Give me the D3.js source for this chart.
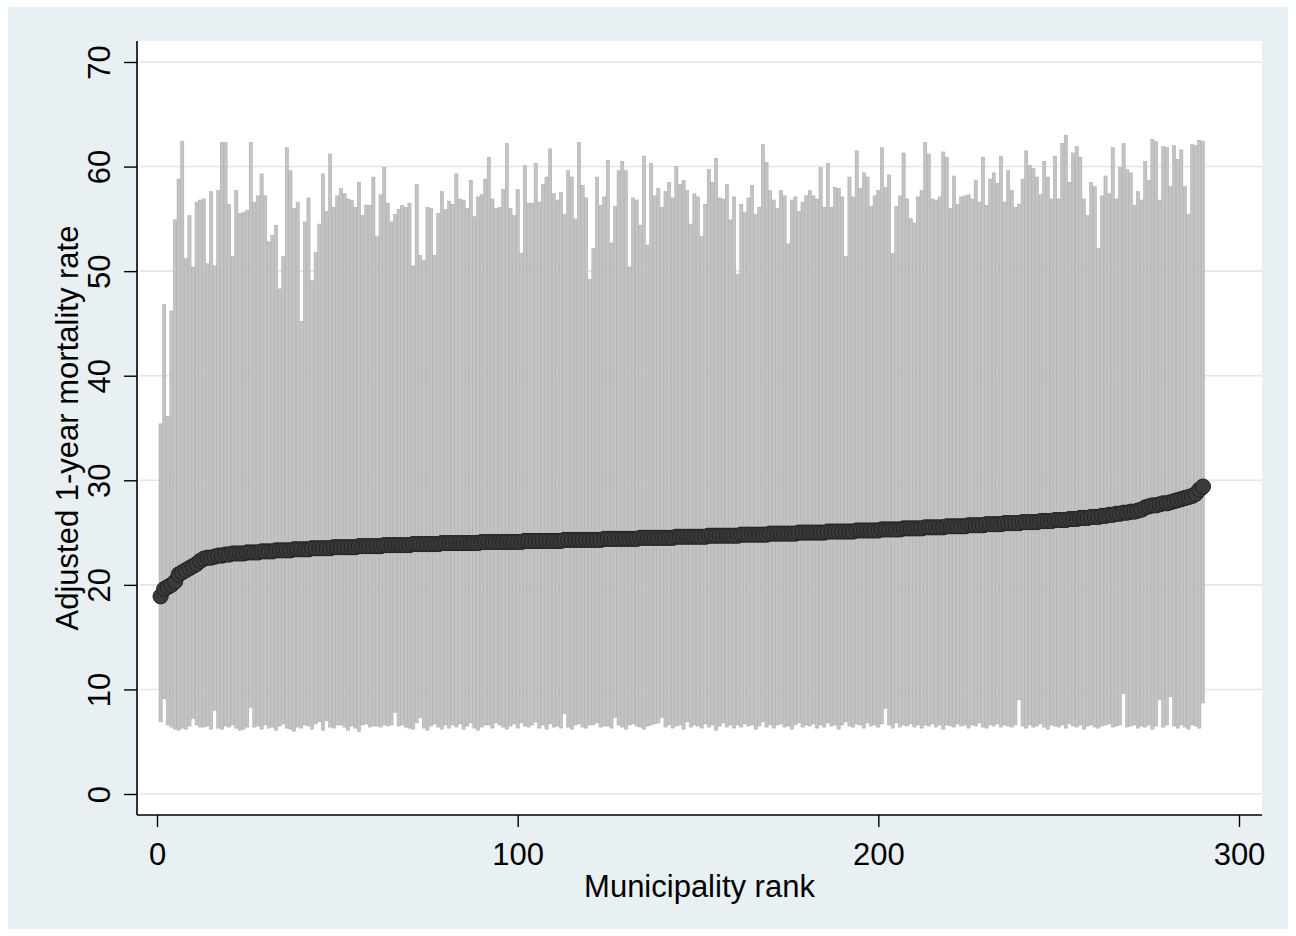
<!DOCTYPE html>
<html>
<head>
<meta charset="utf-8">
<script src="https://cdn.jsdelivr.net/npm/d3@7/dist/d3.min.js"></script>
<style>
  body { margin: 0; background: #ffffff; }
  svg text { font-family: "Liberation Sans", Arial, sans-serif; fill: #000; }
</style>
</head>
<body>
<div id="chart"></div>
<script>
// adjusted 1-year mortality rate per municipality, sorted by rank (1..290)
let estimate = [
  18.9, 19.6, 19.8, 20.0, 20.3, 21.0, 21.2, 21.4, 21.6, 21.8,
  22.0, 22.3, 22.5, 22.6, 22.6, 22.7, 22.8, 22.8, 22.9, 22.9,
  23.0, 23.0, 23.0, 23.0, 23.1, 23.1, 23.1, 23.1, 23.2, 23.2,
  23.2, 23.2, 23.3, 23.3, 23.3, 23.3, 23.3, 23.4, 23.4, 23.4,
  23.4, 23.4, 23.5, 23.5, 23.5, 23.5, 23.5, 23.5, 23.6, 23.6,
  23.6, 23.6, 23.6, 23.6, 23.6, 23.7, 23.7, 23.7, 23.7, 23.7,
  23.7, 23.7, 23.8, 23.8, 23.8, 23.8, 23.8, 23.8, 23.8, 23.8,
  23.9, 23.9, 23.9, 23.9, 23.9, 23.9, 23.9, 23.9, 24.0, 24.0,
  24.0, 24.0, 24.0, 24.0, 24.0, 24.0, 24.0, 24.0, 24.0, 24.1,
  24.1, 24.1, 24.1, 24.1, 24.1, 24.1, 24.1, 24.1, 24.1, 24.1,
  24.1, 24.2, 24.2, 24.2, 24.2, 24.2, 24.2, 24.2, 24.2, 24.2,
  24.2, 24.2, 24.3, 24.3, 24.3, 24.3, 24.3, 24.3, 24.3, 24.3,
  24.3, 24.3, 24.3, 24.4, 24.4, 24.4, 24.4, 24.4, 24.4, 24.4,
  24.4, 24.4, 24.4, 24.5, 24.5, 24.5, 24.5, 24.5, 24.5, 24.5,
  24.5, 24.5, 24.5, 24.6, 24.6, 24.6, 24.6, 24.6, 24.6, 24.6,
  24.6, 24.6, 24.7, 24.7, 24.7, 24.7, 24.7, 24.7, 24.7, 24.7,
  24.7, 24.8, 24.8, 24.8, 24.8, 24.8, 24.8, 24.8, 24.8, 24.9,
  24.9, 24.9, 24.9, 24.9, 24.9, 24.9, 24.9, 25.0, 25.0, 25.0,
  25.0, 25.0, 25.0, 25.0, 25.0, 25.1, 25.1, 25.1, 25.1, 25.1,
  25.1, 25.1, 25.1, 25.2, 25.2, 25.2, 25.2, 25.2, 25.2, 25.2,
  25.3, 25.3, 25.3, 25.3, 25.3, 25.3, 25.4, 25.4, 25.4, 25.4,
  25.4, 25.4, 25.5, 25.5, 25.5, 25.5, 25.5, 25.5, 25.6, 25.6,
  25.6, 25.6, 25.6, 25.6, 25.7, 25.7, 25.7, 25.7, 25.7, 25.8,
  25.8, 25.8, 25.8, 25.8, 25.9, 25.9, 25.9, 25.9, 25.9, 26.0,
  26.0, 26.0, 26.0, 26.0, 26.1, 26.1, 26.1, 26.1, 26.2, 26.2,
  26.2, 26.2, 26.3, 26.3, 26.3, 26.4, 26.4, 26.4, 26.5, 26.5,
  26.5, 26.6, 26.6, 26.7, 26.7, 26.8, 26.8, 26.9, 26.9, 27.0,
  27.0, 27.1, 27.2, 27.4, 27.5, 27.6, 27.6, 27.7, 27.8, 27.8,
  27.9, 28.0, 28.1, 28.2, 28.3, 28.4, 28.5, 28.7, 29.1, 29.4
];

// lower end of the interval
let lower = [
  6.9, 9.1, 6.6, 6.4, 6.2, 6.1, 6.3, 6.2, 6.5, 7.2,
  6.6, 6.4, 6.4, 6.5, 6.2, 8.0, 6.3, 6.2, 6.5, 6.4,
  6.6, 6.3, 6.1, 6.2, 6.4, 8.3, 6.4, 6.5, 6.2, 6.6,
  6.3, 6.4, 6.1, 6.5, 6.7, 6.3, 6.2, 6.0, 6.4, 6.3,
  6.6, 6.5, 6.2, 6.7, 6.9, 6.1, 7.0, 6.4, 6.3, 6.6,
  6.6, 6.4, 6.1, 6.5, 6.3, 6.0, 6.6, 6.7, 6.4, 6.5,
  6.5, 6.4, 6.6, 6.5, 6.6, 7.8, 6.5, 6.6, 6.4, 6.3,
  6.2, 6.8, 7.3, 6.3, 6.1, 6.5, 6.7, 6.4, 6.2, 6.6,
  6.3, 6.6, 6.4, 6.7, 6.2, 6.5, 6.8, 6.3, 6.1, 6.4,
  6.6, 6.6, 6.3, 6.8, 6.6, 6.4, 6.2, 6.5, 6.7, 6.3,
  6.8, 6.5, 6.4, 6.6, 6.9, 6.3, 6.6, 6.2, 6.7, 6.4,
  6.5, 6.3, 7.7, 6.4, 6.2, 6.6, 6.7, 6.4, 6.3, 6.6,
  6.6, 6.8, 6.4, 6.5, 6.5, 6.3, 7.3, 6.6, 6.4, 6.2,
  6.6, 6.7, 6.5, 6.4, 6.2, 6.5, 6.6, 6.7, 6.8, 7.3,
  6.4, 6.6, 6.3, 6.5, 6.6, 6.2, 6.9, 6.4, 6.6, 6.5,
  6.3, 6.7, 6.4, 6.6, 6.1, 6.5, 6.8, 6.4, 6.6, 6.3,
  6.6, 6.4, 6.7, 6.5, 6.6, 6.2, 6.5, 6.9, 6.4, 6.6,
  6.3, 6.6, 6.7, 6.4, 6.5, 6.2, 6.6, 6.8, 6.4, 6.6,
  6.5, 6.7, 6.3, 6.6, 6.4, 6.8, 6.5, 6.6, 6.2, 6.6,
  6.9, 6.5, 6.4, 6.7, 6.6, 6.3, 6.8, 6.5, 6.6, 6.4,
  6.7, 8.2, 6.6, 6.3, 6.8, 6.4, 6.6, 6.5, 6.7, 6.4,
  6.6, 6.3, 6.6, 6.5, 6.7, 6.4, 6.6, 6.2, 6.6, 6.5,
  6.4, 6.7, 6.5, 6.6, 6.3, 6.6, 6.5, 6.8, 6.4, 6.3,
  6.6, 6.5, 6.7, 6.4, 6.6, 6.5, 6.4, 6.6, 9.0, 6.5,
  6.3, 6.6, 6.4, 6.5, 6.7, 6.4, 6.2, 6.6, 6.5, 6.4,
  6.6, 6.3, 6.7, 6.5, 6.4, 6.6, 6.2, 6.5, 6.6, 6.4,
  6.3, 6.5, 6.6, 6.7, 6.4, 6.5, 6.6, 9.6, 6.4, 6.5,
  6.6, 6.3, 6.5, 6.4, 6.6, 6.2, 6.5, 9.0, 6.4, 6.6,
  9.3, 6.5, 6.3, 6.6, 6.4, 6.2, 6.6, 6.5, 6.3, 8.7
];

// upper end of the interval
let upper = [
  35.4, 46.8, 36.1, 46.2, 54.9, 58.8, 62.4, 51.2, 55.3, 50.4,
  56.6, 56.8, 56.9, 50.7, 57.6, 50.5, 57.7, 62.3, 62.3, 56.4,
  51.4, 57.7, 55.5, 55.6, 55.8, 62.3, 56.6, 57.2, 59.3, 57.2,
  52.8, 53.4, 54.4, 48.3, 51.4, 61.8, 59.6, 56.0, 56.6, 45.2,
  54.7, 57.0, 49.1, 51.8, 54.5, 59.3, 55.7, 61.2, 56.1, 57.2,
  57.9, 57.4, 56.9, 56.8, 56.1, 58.5, 55.3, 56.3, 56.3, 59.0,
  53.3, 57.3, 59.9, 56.5, 54.7, 55.4, 55.9, 56.3, 56.1, 56.5,
  50.5, 58.3, 51.5, 51.0, 56.1, 56.0, 51.5, 55.5, 57.6, 55.9,
  56.7, 56.4, 59.3, 56.9, 56.8, 56.0, 58.7, 55.2, 57.1, 57.3,
  58.8, 60.9, 56.9, 56.0, 56.1, 57.8, 62.2, 56.0, 55.3, 57.8,
  51.7, 60.1, 56.5, 56.5, 60.3, 56.6, 58.3, 59.0, 61.7, 57.4,
  56.8, 57.5, 55.4, 59.6, 59.0, 55.0, 62.3, 58.2, 57.0, 49.2,
  52.2, 59.0, 56.3, 57.1, 60.6, 52.7, 56.2, 59.6, 60.5, 59.6,
  50.4, 57.0, 56.8, 54.4, 61.0, 52.5, 60.3, 57.2, 57.9, 56.1,
  57.6, 58.5, 57.0, 60.0, 58.3, 58.7, 57.7, 54.5, 57.4, 57.1,
  53.3, 56.4, 59.7, 58.5, 60.8, 57.0, 56.9, 58.3, 54.9, 57.1,
  49.7, 56.4, 55.6, 57.0, 58.2, 55.4, 56.1, 62.1, 60.4, 57.7,
  56.8, 56.0, 57.7, 57.2, 52.6, 56.8, 57.1, 55.7, 56.6, 57.2,
  57.7, 57.2, 56.9, 59.9, 56.1, 60.3, 56.1, 58.0, 57.9, 57.1,
  51.4, 59.0, 57.1, 61.5, 57.9, 59.4, 59.0, 56.2, 57.2, 57.7,
  61.8, 58.0, 59.2, 51.7, 56.2, 57.2, 61.3, 56.9, 55.0, 54.6,
  57.1, 57.7, 62.3, 61.2, 56.9, 56.8, 57.1, 61.4, 60.9, 56.0,
  59.1, 56.4, 57.1, 57.2, 57.3, 56.9, 58.7, 56.6, 60.9, 56.3,
  58.8, 59.4, 58.4, 61.0, 56.6, 59.6, 57.7, 56.1, 56.4, 58.8,
  61.5, 60.1, 59.8, 59.0, 57.3, 60.5, 59.0, 56.9, 61.0, 56.9,
  62.2, 63.0, 58.5, 61.3, 61.9, 60.9, 56.9, 55.3, 58.5, 58.1,
  52.2, 57.2, 59.1, 57.4, 61.8, 56.9, 59.9, 62.2, 59.7, 59.4,
  56.3, 57.6, 56.8, 60.5, 58.7, 62.6, 62.4, 56.8, 61.9, 61.8,
  58.1, 62.0, 60.7, 61.6, 58.1, 55.4, 62.1, 62.0, 62.5, 62.4
];

let yTicks = [0, 10, 20, 30, 40, 50, 60, 70];
let xTicks = [0, 100, 200, 300];

let data = estimate.map(function(d, i) {
    return {rank: i + 1, est: d, lo: lower[i], hi: upper[i]};
});

let W = 1296, H = 936;

let svg = d3.select("#chart")
    .append("svg")
    .attr("width", W)
    .attr("height", H);

// stata style backdrop
svg.append("rect")
    .attr("x", 8).attr("y", 7)
    .attr("width", 1280).attr("height", 922)
    .attr("fill", "#e9f0f3");

let plotL = 137, plotR = 1262, plotT = 41, plotB = 815;

svg.append("rect")
    .attr("x", plotL).attr("y", plotT)
    .attr("width", plotR - plotL).attr("height", plotB - plotT)
    .attr("fill", "#ffffff");

let x = d3.scaleLinear()
    .domain([0, 300])
    .range([157, 1239]);

let y = d3.scaleLinear()
    .domain([0, 70])
    .range([794, 62]);

// grid
svg.append("g")
    .selectAll("line")
    .data(yTicks)
    .enter()
    .append("line")
    .attr("x1", plotL + 3)
    .attr("x2", plotR)
    .attr("y1", function(d) { return y(d); })
    .attr("y2", function(d) { return y(d); })
    .attr("stroke", "#dbe8ec")
    .attr("stroke-width", 1.6);

// interval spikes
svg.append("g")
    .selectAll("rect")
    .data(data)
    .enter()
    .append("rect")
    .attr("x", function(d) { return x(d.rank) - 1.6; })
    .attr("width", 3.2)
    .attr("y", function(d) { return y(d.hi); })
    .attr("height", function(d) { return y(d.lo) - y(d.hi); })
    .attr("fill", "#c4c4c4")
    .attr("stroke", "#a6a6a6")
    .attr("stroke-width", 0.5);

// point estimates
svg.append("g")
    .selectAll("circle")
    .data(data)
    .enter()
    .append("circle")
    .attr("cx", function(d) { return x(d.rank); })
    .attr("cy", function(d) { return y(d.est); })
    .attr("r", 7.6)
    .attr("fill", "#3a3a3a")
    .attr("stroke", "#222")
    .attr("stroke-width", 1);

// y axis
let yAxis = svg.append("g")
    .attr("transform", "translate(" + plotL + ",0)")
    .call(d3.axisLeft(y).tickValues(yTicks).tickSize(13).tickPadding(0).tickFormat(d3.format("d")));
yAxis.select(".domain").remove();
yAxis.selectAll(".tick line").attr("stroke", "#000").attr("stroke-width", 1.4);
yAxis.selectAll(".tick text")
    .attr("x", 0).attr("y", 0).attr("dy", 0)
    .attr("transform", "translate(-27,0) rotate(-90)")
    .attr("text-anchor", "middle")
    .style("font-size", "31px");

svg.append("line")
    .attr("x1", plotL).attr("x2", plotL)
    .attr("y1", plotT).attr("y2", plotB)
    .attr("stroke", "#000").attr("stroke-width", 1.6);

// x axis
let xAxis = svg.append("g")
    .attr("transform", "translate(0," + plotB + ")")
    .call(d3.axisBottom(x).tickValues(xTicks).tickSize(12).tickPadding(0).tickFormat(d3.format("d")));
xAxis.select(".domain").remove();
xAxis.selectAll(".tick line").attr("stroke", "#000").attr("stroke-width", 1.4);
xAxis.selectAll(".tick text")
    .attr("y", 50).attr("dy", 0)
    .style("font-size", "31px");

svg.append("line")
    .attr("x1", plotL).attr("x2", plotR)
    .attr("y1", plotB).attr("y2", plotB)
    .attr("stroke", "#000").attr("stroke-width", 1.6);

// titles
svg.append("text")
    .attr("x", (plotL + plotR) / 2)
    .attr("y", 897)
    .attr("text-anchor", "middle")
    .style("font-size", "31px")
    .text("Municipality rank");

svg.append("text")
    .attr("transform", "translate(78," + ((plotT + plotB) / 2) + ") rotate(-90)")
    .attr("text-anchor", "middle")
    .style("font-size", "31px")
    .text("Adjusted 1-year mortality rate");
</script>
</body>
</html>
